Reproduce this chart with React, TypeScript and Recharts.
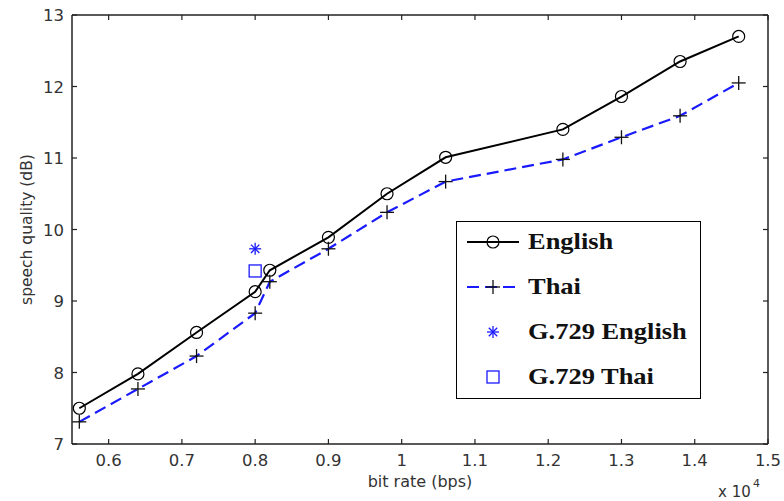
import React from 'react';
import {
  ComposedChart,
  Line,
  Scatter,
  XAxis,
  YAxis,
  Legend,
  Label,
} from 'recharts';

// bit rate in units of 10^4 bps
const bitRates = [0.56, 0.64, 0.72, 0.8, 0.82, 0.9, 0.98, 1.06, 1.22, 1.3, 1.38, 1.46];
const englishQuality = [7.5, 7.98, 8.56, 9.13, 9.43, 9.89, 10.5, 11.01, 11.4, 11.86, 12.35, 12.7];
const thaiQuality = [7.31, 7.77, 8.23, 8.83, 9.27, 9.73, 10.24, 10.67, 10.98, 11.29, 11.59, 12.05];
const g729English = [{ x: 0.8, y: 9.73 }];
const g729Thai = [{ x: 0.8, y: 9.42 }];

const xTicks = [0.6, 0.7, 0.8, 0.9, 1, 1.1, 1.2, 1.3, 1.4, 1.5];
const yTicks = [7, 8, 9, 10, 11, 12, 13];

const englishData = bitRates.map((x, i) => ({ x, y: englishQuality[i] }));
const thaiData = bitRates.map((x, i) => ({ x, y: thaiQuality[i] }));

const BLUE = '#1a1aff';
const TICK_FONT = '"DejaVu Sans", Verdana, sans-serif';
const LEGEND_FONT = '"Liberation Serif", "Times New Roman", serif';
const TICK_LEN = 5;

const CircleDot = (props: any) => {
  const { cx, cy, index } = props;
  return <circle key={`c-${index}`} cx={cx} cy={cy} r={6} fill="none" stroke="#000" strokeWidth={1.2} />;
};

const PlusDot = (props: any) => {
  const { cx, cy, index } = props;
  return (
    <g key={`p-${index}`}>
      <line x1={cx - 7} y1={cy} x2={cx + 7} y2={cy} stroke="#111" strokeWidth={1.3} />
      <line x1={cx} y1={cy - 7} x2={cx} y2={cy + 7} stroke="#111" strokeWidth={1.3} />
    </g>
  );
};

const StarShape = (props: any) => {
  const { cx, cy } = props;
  const r = 6;
  return (
    <g stroke={BLUE} strokeWidth={1.3}>
      <line x1={cx - r} y1={cy} x2={cx + r} y2={cy} />
      <line x1={cx} y1={cy - r} x2={cx} y2={cy + r} />
      <line x1={cx - r * 0.7} y1={cy - r * 0.7} x2={cx + r * 0.7} y2={cy + r * 0.7} />
      <line x1={cx - r * 0.7} y1={cy + r * 0.7} x2={cx + r * 0.7} y2={cy - r * 0.7} />
    </g>
  );
};

const SquareShape = (props: any) => {
  const { cx, cy } = props;
  return <rect x={cx - 6} y={cy - 6} width={12} height={12} fill="none" stroke={BLUE} strokeWidth={1.3} />;
};

// inward tick marks, labels outside (matlab style)
// with tickSize=0 and tickMargin=8, the given x/y sit 8px off the axis line
const BottomTick = (props: any) => {
  const { x, y, payload } = props;
  return (
    <g>
      <line x1={x} y1={y - 8} x2={x} y2={y - 8 - TICK_LEN} stroke="#222" strokeWidth={1.2} />
      <text x={x} y={y + 14} textAnchor="middle" fontSize={16.5} fontFamily={TICK_FONT} fill="#333">
        {payload.value}
      </text>
    </g>
  );
};

const TopTick = (props: any) => {
  const { x, y } = props;
  return <line x1={x} y1={y + 8} x2={x} y2={y + 8 + TICK_LEN} stroke="#222" strokeWidth={1.2} />;
};

const LeftTick = (props: any) => {
  const { x, y, payload } = props;
  return (
    <g>
      <line x1={x + 8} y1={y} x2={x + 8 + TICK_LEN} y2={y} stroke="#222" strokeWidth={1.2} />
      <text x={x} y={y + 6} textAnchor="end" fontSize={16.5} fontFamily={TICK_FONT} fill="#333">
        {payload.value}
      </text>
    </g>
  );
};

const RightTick = (props: any) => {
  const { x, y } = props;
  return <line x1={x - 8} y1={y} x2={x - 8 - TICK_LEN} y2={y} stroke="#222" strokeWidth={1.2} />;
};

const legendRows = [
  { name: 'English', kind: 'english' },
  { name: 'Thai', kind: 'thai' },
  { name: 'G.729 English', kind: 'star' },
  { name: 'G.729 Thai', kind: 'square' },
];

const LegendSample = ({ kind }: { kind: string }) => (
  <svg width={54} height={20} style={{ display: 'block' }}>
    {kind === 'english' && (
      <g>
        <line x1={1} y1={10} x2={53} y2={10} stroke="#000" strokeWidth={2} />
        <circle cx={27} cy={10} r={6} fill="none" stroke="#000" strokeWidth={1.2} />
      </g>
    )}
    {kind === 'thai' && (
      <g>
        <line x1={1} y1={10} x2={53} y2={10} stroke={BLUE} strokeWidth={2.2} strokeDasharray="12 6" />
        <line x1={20} y1={10} x2={34} y2={10} stroke="#111" strokeWidth={1.3} />
        <line x1={27} y1={3} x2={27} y2={17} stroke="#111" strokeWidth={1.3} />
      </g>
    )}
    {kind === 'star' && <StarShape cx={27} cy={10} />}
    {kind === 'square' && <rect x={21} y={4} width={12} height={12} fill="none" stroke={BLUE} strokeWidth={1.3} />}
  </svg>
);

const LegendBox = () => (
  <div
    style={{
      width: 243,
      height: 176,
      border: '1px solid #000',
      background: '#fff',
      boxSizing: 'content-box',
    }}
  >
    <div style={{ position: 'relative', top: -3 }}>
      {legendRows.map((r) => (
        <div key={r.name} style={{ display: 'flex', alignItems: 'center', height: 45, paddingLeft: 9 }}>
          <LegendSample kind={r.kind} />
          <span
            style={{
              display: 'inline-block',
              marginLeft: 8,
              fontFamily: LEGEND_FONT,
              fontWeight: 'bold',
              fontSize: 23,
              color: '#111',
              transform: 'scaleX(1.15)',
              transformOrigin: 'left center',
              whiteSpace: 'nowrap',
            }}
          >
            {r.name}
          </span>
        </div>
      ))}
    </div>
  </div>
);

const axisLine = { stroke: '#222', strokeWidth: 1.5 };

export default function App() {
  return (
    <div style={{ position: 'fixed', left: 0, top: 0, width: 784, height: 501, background: '#fff' }}>
      <ComposedChart width={784} height={501} margin={{ top: 0, right: 0, bottom: 0, left: 0 }}>
        <XAxis
          xAxisId="bottom"
          dataKey="x"
          type="number"
          domain={[0.55, 1.5]}
          ticks={xTicks}
          allowDataOverflow
          height={57}
          tickSize={0}
          tickMargin={8}
          tickLine={false}
          axisLine={axisLine}
          tick={<BottomTick />}
        >
          <Label
            value="bit rate (bps)"
            position="insideBottom"
            offset={14}
            style={{ fontFamily: TICK_FONT, fontSize: 16, fill: '#333' }}
          />
        </XAxis>
        <XAxis
          xAxisId="top"
          orientation="top"
          dataKey="x"
          type="number"
          domain={[0.55, 1.5]}
          ticks={xTicks}
          allowDataOverflow
          height={15}
          tickSize={0}
          tickMargin={8}
          tickLine={false}
          axisLine={axisLine}
          tick={<TopTick />}
        />
        <YAxis
          yAxisId="left"
          type="number"
          domain={[7, 13]}
          ticks={yTicks}
          allowDataOverflow
          width={72}
          tickSize={0}
          tickMargin={8}
          tickLine={false}
          axisLine={axisLine}
          tick={<LeftTick />}
        >
          <Label
            value="speech quality (dB)"
            angle={-90}
            position="insideLeft"
            offset={26}
            style={{ textAnchor: 'middle', fontFamily: TICK_FONT, fontSize: 15.5, fill: '#333' }}
          />
        </YAxis>
        <YAxis
          yAxisId="right"
          orientation="right"
          type="number"
          domain={[7, 13]}
          ticks={yTicks}
          allowDataOverflow
          width={16}
          tickSize={0}
          tickMargin={8}
          tickLine={false}
          axisLine={axisLine}
          tick={<RightTick />}
        />
        <Line
          xAxisId="bottom"
          yAxisId="left"
          data={englishData}
          dataKey="y"
          stroke="#000"
          strokeWidth={2}
          dot={CircleDot}
          activeDot={false}
          isAnimationActive={false}
          legendType="none"
        />
        <Line
          xAxisId="bottom"
          yAxisId="left"
          data={thaiData}
          dataKey="y"
          stroke={BLUE}
          strokeWidth={2.2}
          strokeDasharray="12 6"
          dot={PlusDot}
          activeDot={false}
          isAnimationActive={false}
          legendType="none"
        />
        <Scatter
          xAxisId="bottom"
          yAxisId="left"
          data={g729English}
          dataKey="y"
          shape={<StarShape />}
          isAnimationActive={false}
        />
        <Scatter
          xAxisId="bottom"
          yAxisId="left"
          data={g729Thai}
          dataKey="y"
          shape={<SquareShape />}
          isAnimationActive={false}
        />
        <Legend
          layout="horizontal"
          verticalAlign="middle"
          align="center"
          content={<LegendBox />}
          wrapperStyle={{ position: 'absolute', left: 456, top: 221, width: 'auto', height: 'auto' }}
        />
        <text x={718} y={497} fontFamily={TICK_FONT} fontSize={15} fill="#333">
          x 10
        </text>
        <text x={753} y={487} fontFamily={TICK_FONT} fontSize={11} fill="#333">
          4
        </text>
      </ComposedChart>
    </div>
  );
}
